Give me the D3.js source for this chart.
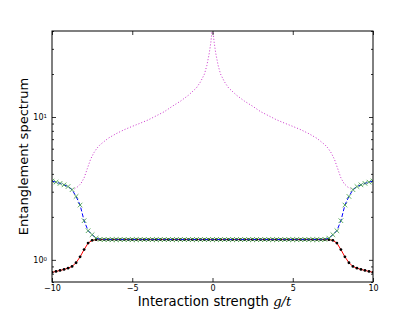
<!DOCTYPE html>
<html>
<head>
<meta charset="utf-8">
<script src="https://cdn.jsdelivr.net/npm/d3@7"></script>
<style>
  body { margin: 0; background: #fff; }
  svg { display: block; font-family: "DejaVu Sans", sans-serif; }
</style>
</head>
<body>
<svg id="chart"></svg>
<script>
// coupling grid g/t
const gValues = [
  -10, -9.75, -9.5, -9.25, -9, -8.75, -8.5, -8.25, -8, -7.75, -7.5, -7.25, -7,
  -6.75, -6.5, -6.25, -6, -5.75, -5.5, -5.25, -5, -4.75, -4.5, -4.25, -4,
  -3.75, -3.5, -3.25, -3, -2.75, -2.5, -2.25, -2, -1.75, -1.5, -1.25, -1,
  -0.75, -0.5, -0.25, 0, 0.25, 0.5, 0.75, 1, 1.25, 1.5, 1.75, 2, 2.25, 2.5,
  2.75, 3, 3.25, 3.5, 3.75, 4, 4.25, 4.5, 4.75, 5, 5.25, 5.5, 5.75, 6, 6.25,
  6.5, 6.75,
  7, 7.25, 7.5, 7.75, 8, 8.25, 8.5, 8.75, 9, 9.25, 9.5, 9.75, 10
];

// lowest level (black dots, red line)
const lowerLevel = [
  0.818, 0.830, 0.843, 0.857, 0.875, 0.900, 0.955, 1.05, 1.18, 1.31, 1.37, 1.385, 1.386,
  1.386, 1.386, 1.386, 1.386, 1.386, 1.386, 1.386, 1.386, 1.386, 1.386, 1.386, 1.386,
  1.386, 1.386, 1.386, 1.386, 1.386, 1.386, 1.386, 1.386, 1.386, 1.386, 1.386, 1.386,
  1.386, 1.386, 1.386, 1.386, 1.386, 1.386, 1.386, 1.386, 1.386, 1.386, 1.386, 1.386,
  1.386, 1.386, 1.386, 1.386, 1.386, 1.386, 1.386, 1.386, 1.386, 1.386, 1.386, 1.386,
  1.386, 1.386, 1.386, 1.386, 1.386, 1.386, 1.386,
  1.386, 1.385, 1.37, 1.31, 1.18, 1.05, 0.955, 0.900, 0.875, 0.857, 0.843, 0.830, 0.818
];

// second level (green x, blue dashed line)
const upperLevel = [
  3.56, 3.50, 3.43, 3.35, 3.26, 3.10, 2.78, 2.42, 1.88, 1.60, 1.50, 1.42, 1.39,
  1.386, 1.386, 1.386, 1.386, 1.386, 1.386, 1.386, 1.386, 1.386, 1.386, 1.386, 1.386,
  1.386, 1.386, 1.386, 1.386, 1.386, 1.386, 1.386, 1.386, 1.386, 1.386, 1.386, 1.386,
  1.386, 1.386, 1.386, 1.386, 1.386, 1.386, 1.386, 1.386, 1.386, 1.386, 1.386, 1.386,
  1.386, 1.386, 1.386, 1.386, 1.386, 1.386, 1.386, 1.386, 1.386, 1.386, 1.386, 1.386,
  1.386, 1.386, 1.386, 1.386, 1.386, 1.386, 1.386,
  1.39, 1.42, 1.50, 1.60, 1.88, 2.42, 2.78, 3.10, 3.26, 3.35, 3.43, 3.50, 3.56
];

// third level (magenta dotted), cusp at g = 0
const gMagenta = [
  -8.6, -8.4, -8.2, -8, -7.8, -7.6, -7.4, -7.2, -7, -6.5, -6, -5.5, -5, -4.5, -4,
  -3.5, -3, -2.5, -2, -1.5, -1, -0.75, -0.5, -0.35, -0.2, -0.1, -0.05, 0,
  0.05, 0.1, 0.2, 0.35, 0.5, 0.75, 1, 1.5, 2, 2.5, 3, 3.5, 4, 4.5, 5, 5.5, 6,
  6.5, 7, 7.2, 7.4, 7.6, 7.8, 8, 8.2, 8.4, 8.6
];
const magentaLevel = [
  3.14, 3.25, 3.42, 3.75, 4.35, 5.05, 5.6, 6.05, 6.4, 7.1, 7.65, 8.15, 8.6, 9.05, 9.55,
  10.2, 10.9, 11.9, 12.9, 14.2, 16.0, 17.6, 20.0, 23.0, 28.0, 33.5, 38, 48,
  38, 33.5, 28.0, 23.0, 20.0, 17.6, 16.0, 14.2, 12.9, 11.9, 10.9, 10.2, 9.55, 9.05, 8.6, 8.15, 7.65,
  7.1, 6.4, 6.05, 5.6, 5.05, 4.35, 3.75, 3.42, 3.25, 3.14
];

const xTicks = [-10, -5, 0, 5, 10];
const yMajor = [1, 10];
const yMinor = [0.7, 0.8, 0.9, 2, 3, 4, 5, 6, 7, 8, 9, 20, 30, 40];

const width = 415, height = 313;
const margin = { top: 31, right: 42, bottom: 31, left: 52 };
const w = width - margin.left - margin.right;
const h = height - margin.top - margin.bottom;

const svg = d3.select('#chart').attr('width', width).attr('height', height);
const g = svg.append('g').attr('transform', `translate(${margin.left},${margin.top})`);

const x = d3.scaleLinear().domain([-10, 10]).range([0, w]);
const y = d3.scaleLog().domain([0.7, 40]).range([h, 0]);

svg.append('defs').append('clipPath').attr('id', 'clip')
  .append('rect').attr('width', w).attr('height', h);

const plot = g.append('g').attr('clip-path', 'url(#clip)');

const line = d3.line().x(d => x(d[0])).y(d => y(d[1]));

// magenta dotted
plot.append('path')
  .datum(gMagenta.map((v, i) => [v, magentaLevel[i]]))
  .attr('d', line)
  .attr('fill', 'none')
  .attr('stroke', '#cc33cc')
  .attr('stroke-width', 1)
  .attr('stroke-dasharray', '1,2');

const lowPts = gValues.map((v, i) => [v, lowerLevel[i]]);
const upPts = gValues.map((v, i) => [v, upperLevel[i]]);

// red line + black dots
plot.append('path').datum(lowPts).attr('d', line)
  .attr('fill', 'none').attr('stroke', '#ff0000').attr('stroke-width', 1);
plot.selectAll('.dot').data(lowPts).enter().append('circle')
  .attr('class', 'dot')
  .attr('cx', d => x(d[0])).attr('cy', d => y(d[1]))
  .attr('r', 1.4).attr('fill', '#000');

// blue dashed + green x
plot.append('path').datum(upPts).attr('d', line)
  .attr('fill', 'none').attr('stroke', '#0000ff').attr('stroke-width', 1)
  .attr('stroke-dasharray', '4,2');
const s = 2.3;
plot.selectAll('.xm').data(upPts).enter().append('path')
  .attr('class', 'xm')
  .attr('d', d => {
    const cx = x(d[0]), cy = y(d[1]);
    return `M${cx - s},${cy - s}L${cx + s},${cy + s}M${cx - s},${cy + s}L${cx + s},${cy - s}`;
  })
  .attr('stroke', '#3c9c3c').attr('stroke-width', 0.8).attr('fill', 'none');

// axes with inward ticks
function styleAxis(sel) {
  sel.select('.domain').remove();
  sel.selectAll('.tick line').attr('stroke', '#000').attr('stroke-width', 0.8);
  sel.selectAll('text').attr('fill', '#000').attr('font-family', 'DejaVu Sans');
}

g.append('g').attr('transform', `translate(0,${h})`)
  .call(d3.axisBottom(x).tickValues(xTicks).tickSize(-4).tickPadding(3)
    .tickFormat(d => (d < 0 ? '\u2212' : '') + Math.abs(d)))
  .call(styleAxis)
  .selectAll('text').attr('font-size', '8px');

g.append('g')
  .call(d3.axisTop(x).tickValues(xTicks).tickSize(-4).tickFormat(''))
  .call(styleAxis);

const yl = g.append('g')
  .call(d3.axisLeft(y).tickValues(yMajor).tickSize(-4).tickPadding(5).tickFormat(''))
  .call(styleAxis);
yl.selectAll('.tick text').each(function (d) {
  const t = d3.select(this).attr('font-size', '8px').attr('dy', '0.35em');
  t.append('tspan').text('10');
  t.append('tspan').attr('dy', '-0.45em').attr('font-size', '5.5px').text(Math.round(Math.log10(d)));
});

g.append('g')
  .call(d3.axisLeft(y).tickValues(yMinor).tickSize(-2).tickFormat(''))
  .call(styleAxis);

g.append('g').attr('transform', `translate(${w},0)`)
  .call(d3.axisRight(y).tickValues(yMajor).tickSize(-4).tickFormat(''))
  .call(styleAxis);
g.append('g').attr('transform', `translate(${w},0)`)
  .call(d3.axisRight(y).tickValues(yMinor).tickSize(-2).tickFormat(''))
  .call(styleAxis);

// frame
g.append('rect').attr('width', w).attr('height', h)
  .attr('fill', 'none').attr('stroke', '#000').attr('stroke-width', 1);

// labels
const xl = svg.append('text')
  .attr('x', margin.left + w / 2 + 2).attr('y', 305.5)
  .attr('text-anchor', 'middle').attr('font-size', '13.2px').attr('fill', '#000');
xl.append('tspan').text('Interaction strength ');
xl.append('tspan').attr('font-family', 'DejaVu Serif').attr('font-style', 'italic').text('g/t');

svg.append('text')
  .attr('transform', `translate(28,${margin.top + h / 2}) rotate(-90)`)
  .attr('text-anchor', 'middle').attr('font-size', '13px').attr('fill', '#000')
  .text('Entanglement spectrum');
</script>
</body>
</html>
